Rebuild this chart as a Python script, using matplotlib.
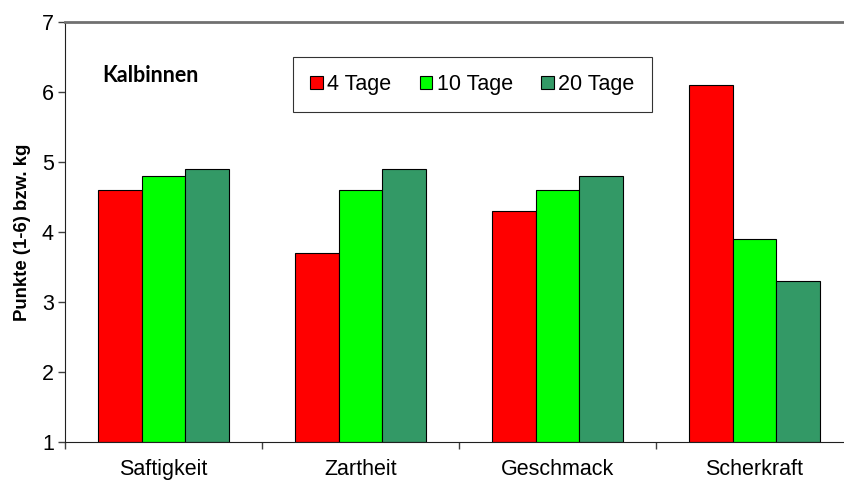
import numpy as np
import matplotlib.pyplot as plt

plt.rcParams['font.family'] = ['Liberation Sans', 'DejaVu Sans']

kategorien = ['Saftigkeit', 'Zartheit', 'Geschmack', 'Scherkraft']
serien = ['4 Tage', '10 Tage', '20 Tage']
tage_4 = [4.6, 3.7, 4.3, 6.1]
tage_10 = [4.8, 4.6, 4.6, 3.9]
tage_20 = [4.9, 4.9, 4.8, 3.3]
farben = ['#FF0000', '#00FF00', '#339966']

fig = plt.figure(figsize=(8.44, 4.86), dpi=100)
# Plotbereich reicht rechts etwas über den Bildrand hinaus
ax = fig.add_axes([65 / 844, 44 / 486, 788 / 844, 420 / 486])

x = np.arange(len(kategorien)) + 0.5
breite = 0.223
for i, (werte, name) in enumerate(zip([tage_4, tage_10, tage_20], serien)):
    ax.bar(x + (i - 1) * breite, np.array(werte) - 1, breite, bottom=1,
           color=farben[i], edgecolor='black', linewidth=0.8, label=name)

ax.set_xlim(0, 4)
ax.set_ylim(1, 7)
ax.set_yticks(range(1, 8))
ax.set_xticks([0, 1, 2, 3, 4])
ax.set_xticklabels([])
ax.set_xticks(x, minor=True)
ax.set_xticklabels(kategorien, minor=True)
ax.tick_params(axis='x', which='minor', length=0, pad=12, labelsize=15.5)
ax.tick_params(axis='x', which='major', length=5, width=1, color='#404040')
ax.tick_params(axis='y', length=5, width=1, color='#404040', labelsize=15.5, pad=3)

ax.spines['right'].set_visible(False)
ax.spines['top'].set_color('#707070')
ax.spines['top'].set_linewidth(2)
ax.spines['left'].set_color('#202020')
ax.spines['bottom'].set_color('#202020')

ax.set_ylabel('Punkte (1-6) bzw. kg', fontsize=13.4, fontweight='bold', labelpad=8)

ax.text(0.188, 6.23, 'Kalbinnen', fontsize=15.5, fontweight='bold',
        family=['Lato', 'DejaVu Sans'], va='center')

leg = ax.legend(loc='upper left', bbox_to_anchor=((293 - 65) / 788, (486 - 57 - 44) / 420),
                borderaxespad=0, ncol=3, fontsize=15.5, handlelength=0.6,
                handleheight=0.6, handletextpad=0.2, columnspacing=1.3,
                borderpad=0.8, frameon=True, fancybox=False)
leg.get_frame().set_edgecolor('black')
leg.get_frame().set_linewidth(0.8)

fig.savefig('out.png', dpi=100)
